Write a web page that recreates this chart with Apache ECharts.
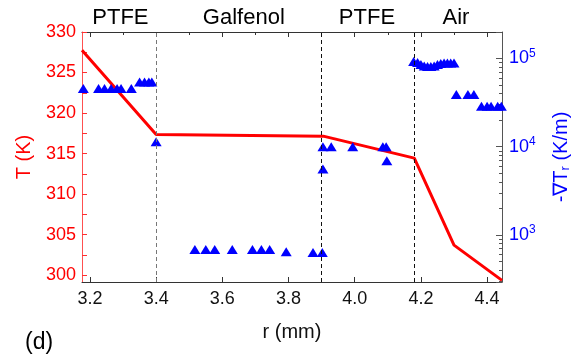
<!DOCTYPE html>
<html>
<head>
<meta charset="utf-8">
<script src="https://cdn.jsdelivr.net/npm/echarts@6/dist/echarts.min.js"></script>
<style>
html,body{margin:0;padding:0;background:#fff;}
#chart{width:573px;height:360px;}
</style>
</head>
<body>
<div id="chart"></div>
<script>
// ---- data ----
const regionNames = ['PTFE', 'Galfenol', 'PTFE', 'Air'];
const regionCenters = [3.292, 3.665, 4.037, 4.306];
const boundaries = [3.4, 3.905, 4.18];

const tempR = [3.176, 3.4, 3.905, 4.18, 4.30, 4.445];
const tempT = [327.75, 317.34, 317.15, 314.44, 303.7, 299.35];

const gradR = [
  3.18, 3.226, 3.244, 3.264, 3.282, 3.294, 3.325,
  3.35, 3.365, 3.378, 3.387,
  3.4,
  3.517, 3.55, 3.577, 3.63, 3.691, 3.718, 3.743, 3.793, 3.874, 3.902,
  3.904, 3.929, 3.994, 4.085, 4.095, 4.097, 3.904,
  4.178, 4.19, 4.20, 4.21, 4.22, 4.23, 4.24, 4.25, 4.26, 4.27, 4.28, 4.29, 4.30,
  4.307, 4.342, 4.36,
  4.383, 4.40, 4.412, 4.432, 4.443
];
const gradV = [
  45500, 45500, 45500, 45500, 45500, 45500, 45500,
  53900, 53900, 53900, 53900,
  11400,
  688, 688, 688, 688, 688, 688, 688, 646, 636, 636,
  10000, 10000, 10000, 10000, 10000, 6930, 5580,
  92400, 90100, 85500, 82200, 81100, 81100, 82200, 85500, 87700, 88900, 88900, 88900, 88900,
  39000, 39000, 39000,
  28700, 28700, 28700, 28700, 28700
];

const xTickLabels = [3.2, 3.4, 3.6, 3.8, 4.0, 4.2, 4.4];
const xMinorTicks = [3.2, 3.3, 3.4, 3.5, 3.6, 3.7, 3.8, 3.9, 4.0, 4.1, 4.2, 4.3, 4.4];
const tTickLabels = [300, 305, 310, 315, 320, 325, 330];
const tMinorTicks = [300, 302.5, 305, 307.5, 310, 312.5, 315, 317.5, 320, 322.5, 325, 327.5, 330];

// ---- chart ----
const chart = echarts.init(document.getElementById('chart'));
const FONT = '"Liberation Sans", Arial, sans-serif';

const tempData = tempR.map((r, i) => [r, tempT[i]]);
const gradData = gradR.map((r, i) => [r, gradV[i]]);

function xAxisBase(extra) {
  return Object.assign({
    type: 'value', min: 3.176, max: 4.445,
    axisLine: { lineStyle: { color: '#333', width: 1 } },
    splitLine: { show: false }
  }, extra);
}

chart.setOption({
  animation: false,
  textStyle: { fontFamily: FONT },
  grid: { left: 82, right: 71, top: 32, bottom: 78, outerBoundsMode: 'none', containLabel: false },
  xAxis: [xAxisBase({
    name: 'r (mm)', nameLocation: 'middle', nameGap: 40,
    nameTextStyle: { fontSize: 20, color: '#111', fontFamily: FONT },
    axisTick: { inside: true, length: 5, lineStyle: { color: '#333' }, customValues: xTickLabels },
    axisLabel: {
      fontSize: 18, color: '#111', margin: 8, fontFamily: FONT,
      customValues: xTickLabels,
      formatter: v => Number(v).toFixed(1)
    }
  }), xAxisBase({
    position: 'top',
    axisTick: { inside: true, length: 5, lineStyle: { color: '#333' }, customValues: xTickLabels },
    axisLabel: { show: false }
  }), xAxisBase({
    axisLine: { show: false },
    axisTick: { inside: true, length: 3, lineStyle: { color: '#333' }, customValues: xMinorTicks },
    axisLabel: { show: false }
  }), xAxisBase({
    position: 'top',
    axisLine: { show: false },
    axisTick: { inside: true, length: 3, lineStyle: { color: '#333' }, customValues: xMinorTicks },
    axisLabel: { show: false }
  })],
  yAxis: [{
    type: 'value', min: 299.15, max: 330,
    name: 'T (K)', nameLocation: 'middle', nameGap: 48, nameRotate: 90,
    nameTextStyle: { fontSize: 20, color: '#ff0000', fontFamily: FONT },
    axisLine: { show: true, lineStyle: { color: '#ff5050', width: 1 } },
    axisTick: { inside: true, length: 5, lineStyle: { color: '#ff3030' }, customValues: tMinorTicks },
    splitLine: { show: false },
    axisLabel: {
      fontSize: 18, color: '#ff0000', margin: 6, fontFamily: FONT,
      customValues: tTickLabels,
      formatter: v => String(Math.round(v))
    }
  }, {
    type: 'log', logBase: 10, min: 294, max: 199000,
    position: 'right',
    name: '-\u2207T{sub|r} (K/m)', nameLocation: 'middle', nameGap: 48, nameRotate: 90,
    nameTextStyle: {
      fontSize: 20, color: '#0000ff', fontFamily: FONT,
      rich: { sub: { fontSize: 13, color: '#0000ff', padding: [9, 0, 0, 0], fontFamily: FONT } }
    },
    axisLine: { show: true, lineStyle: { color: '#555', width: 1 } },
    axisTick: { inside: true, length: 6, lineStyle: { color: '#555' } },
    minorTick: { show: true, splitNumber: 9, length: 3, lineStyle: { color: '#555' } },
    splitLine: { show: false },
    axisLabel: {
      color: '#0000ff', margin: 7, showMinLabel: false, showMaxLabel: false,
      formatter: v => {
        const e = Math.log10(v);
        if (Math.abs(e - Math.round(e)) > 1e-6) return '';
        return '{b|10}{s|' + Math.round(e) + '}';
      },
      rich: {
        b: { fontSize: 18, color: '#0000ff', fontFamily: FONT },
        s: { fontSize: 12, color: '#0000ff', padding: [0, 0, 10, 0], fontFamily: FONT }
      }
    }
  }],
  series: [{
    type: 'line', xAxisIndex: 0, yAxisIndex: 0,
    data: tempData, symbol: 'none', z: 3,
    lineStyle: { color: '#ff0000', width: 3 },
    markLine: {
      silent: true, symbol: ['none', 'none'], label: { show: false },
      data: boundaries.map((b, i) => ({
        xAxis: b,
        lineStyle: { type: [4, 3], width: 1, color: i === 0 ? '#777' : '#111' }
      }))
    }
  }, {
    type: 'scatter', xAxisIndex: 0, yAxisIndex: 1,
    data: gradData, symbol: 'triangle', symbolSize: [11, 9], z: 4,
    itemStyle: { color: '#0000ff', opacity: 1 }
  }]
});

chart.setOption({
  graphic: regionNames.map((name, i) => ({
    type: 'text',
    x: chart.convertToPixel({ xAxisIndex: 0 }, regionCenters[i]),
    y: 7,
    style: { text: name, font: '22px ' + FONT, fill: '#000', align: 'center', verticalAlign: 'top' }
  })).concat([{
    type: 'text', x: 25, y: 331,
    style: { text: '(d)', font: '23px ' + FONT, fill: '#000', align: 'left', verticalAlign: 'top' }
  }])
});
</script>
</body>
</html>
